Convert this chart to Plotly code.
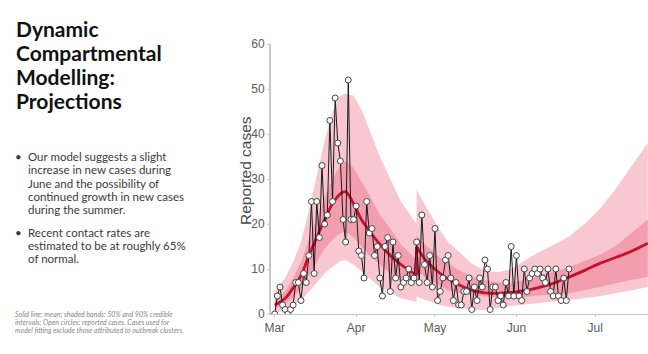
import pandas as pd
import plotly.graph_objects as go

# ---------------- data ----------------
start_date = "2020-03-01"

# daily reported cases, Mar 1 .. Jun 21
cases_mar = [0, 4, 6, 2, 1, 0, 1, 2, 7, 7, 3, 9, 7, 13, 25, 9, 25, 17, 33, 20,
             22, 43, 25, 48, 38, 34, 21, 16, 52, 21, 21]
cases_apr = [24, 14, 13, 8, 25, 18, 19, 13, 15, 8, 4, 15, 17, 5, 16, 8, 13, 6, 7, 8,
             10, 7, 8, 16, 7, 22, 11, 7, 13, 6]
cases_may = [19, 3, 5, 8, 12, 13, 8, 3, 7, 2, 2, 5, 5, 8, 1, 6, 3, 8, 6, 12,
             10, 1, 6, 6, 3, 4, 2, 7, 4, 15, 4]
cases_jun = [13, 4, 3, 10, 5, 8, 9, 10, 9, 10, 8, 7, 10, 5, 4, 10, 4, 3, 8, 3, 10]

# model projection knots (days after Mar 1); day 54 appears twice (step change)
model_day = [0, 4, 7, 10, 13, 16, 19, 22, 25, 27, 30, 33, 36, 40, 44, 48, 54,
             54, 57, 60, 63, 66, 70, 75, 80, 85, 90, 95, 100, 106, 112, 118, 124, 130, 136, 142]
model_mean = [2.0, 3.5, 5.8, 8.5, 13.0, 17.0, 21.0, 24.5, 26.7, 27.2, 24.5, 21.0, 18.5, 15.5, 13.0, 11.0, 8.6,
              15.0, 12.3, 10.5, 9.0, 7.8, 6.5, 5.3, 4.7, 4.6, 4.8, 5.2, 5.8, 6.8, 8.2, 9.7, 11.3, 12.6, 14.0, 15.7]
lo90 = [0.3, 0.8, 2.0, 3.0, 5.0, 7.0, 9.0, 10.5, 11.8, 12.0, 11.0, 9.5, 8.0, 6.0, 4.7, 3.5, 2.7,
        3.9, 3.2, 2.6, 2.0, 1.6, 1.3, 1.0, 0.9, 1.4, 1.8, 2.1, 2.4, 2.7, 3.0, 3.5, 4.0, 4.6, 5.3, 6.0]
lo50 = [1.2, 2.2, 3.8, 5.5, 8.5, 11.5, 14.5, 16.5, 18.0, 18.3, 17.0, 15.0, 13.0, 11.0, 9.0, 8.0, 7.2,
        9.8, 8.3, 7.2, 6.2, 5.3, 4.7, 4.2, 3.9, 3.7, 3.7, 3.8, 4.1, 4.4, 4.6, 5.3, 6.1, 6.9, 7.6, 8.3]
hi50 = [3.0, 5.0, 8.0, 11.5, 16.5, 21.5, 26.0, 30.0, 33.0, 34.0, 32.5, 29.5, 26.5, 22.0, 19.0, 15.5, 12.0,
        17.5, 15.5, 14.0, 12.5, 11.3, 9.8, 8.3, 7.5, 7.0, 7.0, 7.6, 8.4, 9.3, 10.4, 11.8, 13.2, 15.2, 18.0, 21.0]
hi90 = [5.0, 8.0, 11.5, 16.0, 23.0, 31.0, 38.5, 45.0, 48.5, 49.0, 48.5, 45.5, 41.0, 35.0, 30.0, 25.0, 20.0,
        27.5, 24.5, 21.5, 18.5, 16.0, 13.8, 11.2, 9.6, 9.3, 10.0, 11.8, 13.6, 15.3, 17.2, 20.0, 23.5, 28.0, 33.0, 38.0]

month_ticks = ["2020-03-01", "2020-04-01", "2020-05-01", "2020-06-01", "2020-07-01"]
month_labels = ["Mar", "Apr", "May", "Jun", "Jul"]
y_ticks = [0, 10, 20, 30, 40, 50, 60]

title_lines = ["Dynamic", "Compartmental", "Modelling:", "Projections"]
bullet1 = ["Our model suggests a slight", "increase in new cases during",
           "June and the possibility of", "continued growth in new cases",
           "during the summer."]
bullet2 = ["Recent contact rates are", "estimated to be at roughly 65%", "of normal."]
footnote = ["Solid line: mean; shaded bands: 50% and 90% credible",
            "intervals; Open circles: reported cases. Cases used for",
            "model fitting exclude those attributed to outbreak clusters."]

# ---------------- build ----------------
W, H = 648, 354
t0 = pd.Timestamp(start_date)
cases = cases_mar + cases_apr + cases_may + cases_jun
case_dates = pd.date_range(t0, periods=len(cases), freq="D")
mdates = [t0 + pd.Timedelta(days=d) for d in model_day]
jump = model_day.index(54) + 1  # first index after the step

LIGHT = "rgb(249,199,208)"
DARK = "rgb(243,158,175)"
RED = "rgb(200,16,46)"

fig = go.Figure()
fig.add_trace(go.Scatter(x=mdates, y=lo90, mode="lines", line=dict(width=0), hoverinfo="skip", showlegend=False))
fig.add_trace(go.Scatter(x=mdates, y=hi90, mode="lines", line=dict(width=0), fill="tonexty",
                         fillcolor=LIGHT, hoverinfo="skip", showlegend=False))
fig.add_trace(go.Scatter(x=mdates, y=lo50, mode="lines", line=dict(width=0), hoverinfo="skip", showlegend=False))
fig.add_trace(go.Scatter(x=mdates, y=hi50, mode="lines", line=dict(width=0), fill="tonexty",
                         fillcolor=DARK, hoverinfo="skip", showlegend=False))
# mean line: two smooth pieces joined by the step
fig.add_trace(go.Scatter(x=mdates[:jump], y=model_mean[:jump], mode="lines",
                         line=dict(color=RED, width=2.8, shape="spline"), showlegend=False))
fig.add_trace(go.Scatter(x=mdates[jump - 1:jump + 1], y=model_mean[jump - 1:jump + 1], mode="lines",
                         line=dict(color=RED, width=2.8), showlegend=False))
fig.add_trace(go.Scatter(x=mdates[jump:], y=model_mean[jump:], mode="lines",
                         line=dict(color=RED, width=2.8, shape="spline"), showlegend=False))
# observed
fig.add_trace(go.Scatter(x=case_dates, y=cases, mode="lines+markers",
                         line=dict(color="#1a1a1a", width=1),
                         marker=dict(size=6, color="white", line=dict(color="#444", width=1)),
                         showlegend=False))

x_left = t0 - pd.Timedelta(hours=34)
x_right = t0 + pd.Timedelta(days=142, hours=2)

fig.update_layout(
    width=W, height=H, margin=dict(l=0, r=0, t=0, b=0, autoexpand=False),
    paper_bgcolor="white", plot_bgcolor="white",
    font=dict(family="Liberation Sans, Arial", color="#555"),
    xaxis=dict(domain=[271 / W, 1], range=[x_left, x_right], tickvals=month_ticks, ticktext=month_labels,
               automargin=False,
               showgrid=False, zeroline=False, showline=True, linecolor="#c6c6c6", linewidth=1.2,
               ticks="outside", ticklen=2, tickcolor="#ccc", tickfont=dict(size=12, color="#5a5a5a")),
    yaxis=dict(domain=[40 / H, 310 / H], range=[0, 60], tickvals=y_ticks, automargin=False,
               showgrid=False, zeroline=False, showline=True, linecolor="#c6c6c6", linewidth=1.8,
               ticks="outside", ticklen=2, tickcolor="#ccc", tickfont=dict(size=12, color="#5a5a5a")),
)

def ann(text, x_px, base_px, size, color, weight="normal", style="normal", family="Lato"):
    fig.add_annotation(text=text, xref="paper", yref="paper", x=x_px / W,
                       y=1 - (base_px - 0.37 * size) / H, xanchor="left", yanchor="middle",
                       showarrow=False, borderpad=0,
                       font=dict(size=size, color=color, family=family, weight=weight, style=style))

for i, t in enumerate(title_lines):
    ann(t, 15, 36.7 + i * 23.8, 21, "#111", weight="bold")

b1_base = [160.7 + i * 13.3 for i in range(len(bullet1))]
b2_base = [236.7 + i * 13.0 for i in range(len(bullet2))]
for t, b in zip(bullet1, b1_base):
    ann(t, 27, b, 11.5, "#3a3a3a")
for t, b in zip(bullet2, b2_base):
    ann(t, 27, b, 11.5, "#3a3a3a")
ann("•", 14, b1_base[0], 11.5, "#3a3a3a")
ann("•", 14, b2_base[0], 11.5, "#3a3a3a")

for i, t in enumerate(footnote):
    ann(t, 14, 317.3 + i * 7.7, 7, "#888", style="italic")

fig.add_annotation(text="Reported cases", xref="paper", yref="paper", x=245 / W, y=1 - 171 / H,
                   textangle=-90, showarrow=False, xanchor="center", yanchor="middle", borderpad=0,
                   font=dict(size=15.5, color="#4a4a4a", family="Liberation Sans, Arial"))

fig.write_html("out.html")
